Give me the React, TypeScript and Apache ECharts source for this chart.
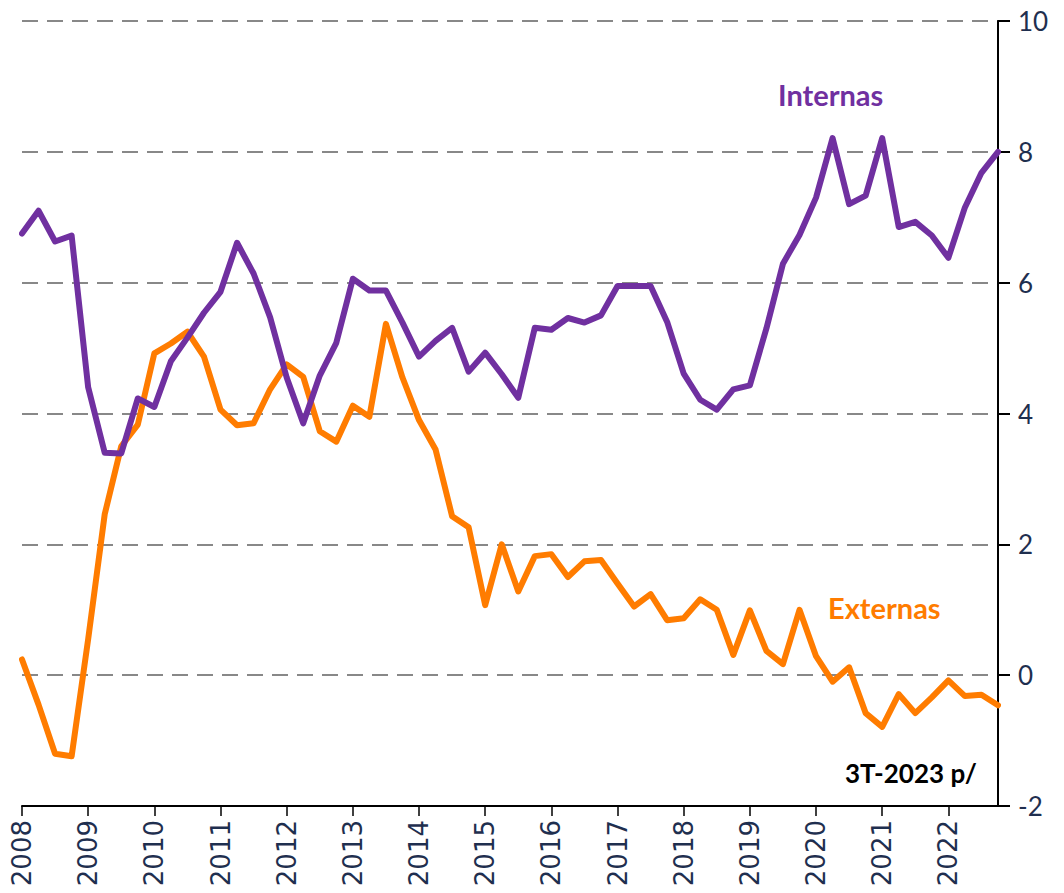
import React, { useEffect, useRef } from "react";
import * as echarts from "echarts";

const years = ["2008","2009","2010","2011","2012","2013","2014","2015","2016","2017","2018","2019","2020","2021","2022"];
const categories: string[] = [];
years.forEach((y) => { for (let q = 1; q <= 4; q++) categories.push(q === 1 ? y : y + "-" + q); });

const internas = [
  6.75, 7.1, 6.63, 6.72, 4.4, 3.4, 3.39, 4.23, 4.1, 4.8,
  5.16, 5.54, 5.86, 6.61, 6.14, 5.47, 4.55, 3.85, 4.58, 5.08,
  6.06, 5.88, 5.88, 5.39, 4.87, 5.11, 5.31, 4.64, 4.93, 4.6,
  4.24, 5.31, 5.28, 5.46, 5.39, 5.5, 5.95, 5.95, 5.95, 5.4,
  4.61, 4.21, 4.06, 4.37, 4.43, 5.3, 6.29, 6.73, 7.3, 8.21,
  7.2, 7.33, 8.21, 6.85, 6.93, 6.72, 6.38, 7.15, 7.68, 8.0,
];

const externas = [
  0.24, -0.45, -1.2, -1.24, 0.55, 2.46, 3.5, 3.83, 4.92, 5.07,
  5.25, 4.87, 4.06, 3.82, 3.85, 4.37, 4.75, 4.56, 3.73, 3.57,
  4.12, 3.95, 5.37, 4.55, 3.9, 3.45, 2.43, 2.26, 1.07, 2.0,
  1.28, 1.82, 1.85, 1.5, 1.74, 1.76, 1.4, 1.05, 1.24, 0.84,
  0.87, 1.16, 1.0, 0.31, 0.99, 0.37, 0.17, 1.0, 0.29, -0.1,
  0.12, -0.58, -0.79, -0.29, -0.58, -0.34, -0.08, -0.32, -0.3, -0.46,
];

const PURPLE = "#7030A0";
const ORANGE = "#FF7C00";
const NAVY = "#1F2F4F";
const FONT = "Lato, 'Noto Sans', sans-serif";

export default function App() {
  const ref = useRef<HTMLDivElement>(null);
  useEffect(() => {
    if (!ref.current) return;
    const chart = echarts.init(ref.current, null, { renderer: "svg" });
    chart.setOption({
      animation: false,
      backgroundColor: "#ffffff",
      grid: { left: 22, right: 66, top: 21, bottom: 87, containLabel: false },
      xAxis: {
        type: "category",
        data: categories,
        boundaryGap: false,
        axisLine: { show: true, onZero: false, lineStyle: { color: "#000", width: 2 } },
        axisTick: { show: true, interval: 3, length: 10, lineStyle: { color: "#000", width: 1.5 } },
        axisLabel: {
          interval: 3,
          rotate: 90,
          color: NAVY,
          fontSize: 26,
          fontFamily: "'DejaVu Sans', sans-serif",
          margin: 14,
          formatter: (v: string) => v.slice(0, 4),
        },
        splitLine: { show: false },
      },
      yAxis: {
        type: "value",
        position: "right",
        min: -2,
        max: 10,
        interval: 2,
        axisLine: { show: true, lineStyle: { color: "#000", width: 2 } },
        axisTick: { show: true, length: 12, lineStyle: { color: "#000", width: 2 } },
        axisLabel: { color: NAVY, fontSize: 26, fontFamily: FONT, margin: 20 },
        splitLine: { show: true, lineStyle: { color: "#888888", width: 2, type: [16, 9] } },
      },
      series: [
        {
          name: "Internas",
          type: "line",
          data: internas,
          showSymbol: false,
          lineStyle: { color: PURPLE, width: 6, join: "round", cap: "round" },
          itemStyle: { color: PURPLE },
          z: 3,
        },
        {
          name: "Externas",
          type: "line",
          data: externas,
          showSymbol: false,
          lineStyle: { color: ORANGE, width: 6, join: "round", cap: "round" },
          itemStyle: { color: ORANGE },
          z: 2,
        },
      ],
      graphic: [
        {
          type: "text",
          left: 778,
          top: 80,
          style: { text: "Internas", fill: PURPLE, font: "bold 29px " + FONT },
        },
        {
          type: "text",
          left: 828,
          top: 593,
          style: { text: "Externas", fill: ORANGE, font: "bold 29px " + FONT },
        },
        {
          type: "text",
          left: 845,
          top: 760,
          style: { text: "3T-2023 p/", fill: "#000", font: "bold 26px " + FONT },
        },
      ],
    });
    return () => chart.dispose();
  }, []);
  return <div ref={ref} style={{ width: 1064, height: 893, position: "absolute", left: 0, top: 0 }} />;
}
